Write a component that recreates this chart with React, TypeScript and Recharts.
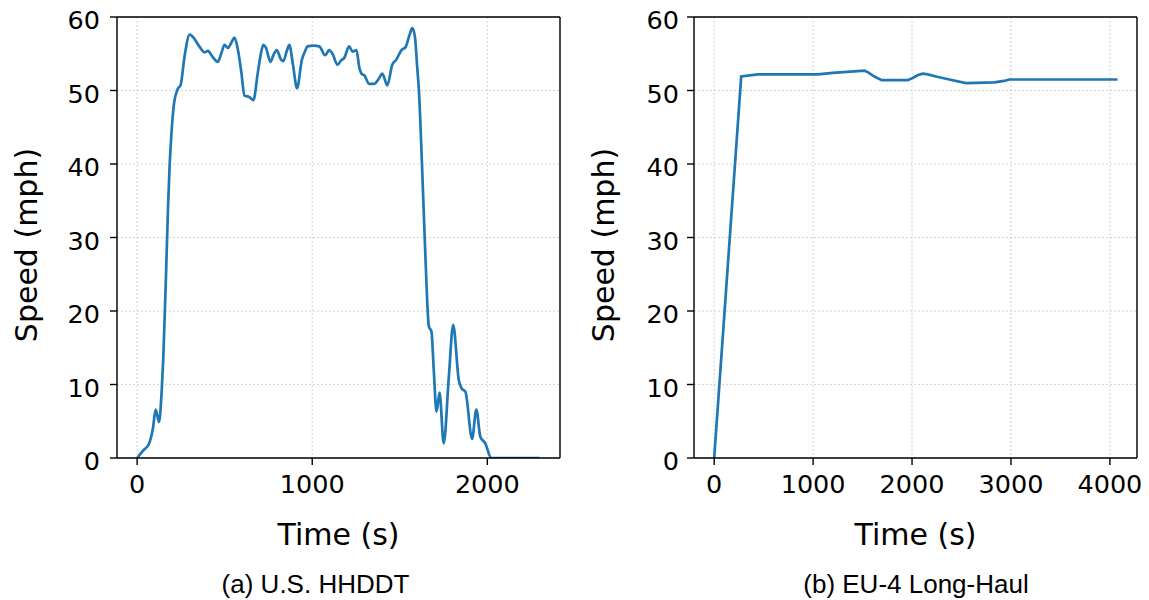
import React from 'react';
import { LineChart, Line, XAxis, YAxis, CartesianGrid, ReferenceLine } from 'recharts';

// ---- Data ----
const hhddtTime = [
  0, 34, 68, 90, 106, 125, 140, 150, 165, 176, 185, 195, 209, 230, 249, 270, 300, 328, 355, 385, 404,
  430, 461, 480, 499, 518, 540, 556, 575, 595, 613, 641, 664, 689, 710, 721, 736, 761, 780, 797, 822,
  835, 855, 869, 890, 913, 941, 960, 973, 1006, 1040, 1074, 1097, 1116, 1144, 1165, 1182, 1211, 1230, 1252, 1270,
  1281, 1300, 1324, 1353, 1380, 1400, 1429, 1457, 1480, 1510, 1533, 1555, 1571, 1586, 1600, 1609, 1628, 1647, 1666, 1681,
  1694, 1710, 1727, 1751, 1780, 1805, 1837, 1852, 1875, 1913, 1937, 1960, 1988, 2023, 2298,
];
const hhddtSpeed = [
  0, 1.0, 1.95, 4.0, 6.6, 4.9, 9, 14, 25, 33.8, 39.5, 43.8, 47.9, 50.1, 50.8, 54.5, 57.6, 57.0, 56.0, 55.2, 55.4,
  54.6, 53.9, 55.0, 56.2, 55.8, 56.6, 57.2, 55.6, 52.5, 49.3, 49.1, 48.7, 52.4, 55.4, 56.2, 55.8, 53.9, 54.9, 55.5, 54.2,
  54.0, 55.4, 56.2, 53.5, 50.3, 54.2, 55.4, 56.0, 56.1, 56.0, 54.8, 55.5, 55.0, 53.5, 54.1, 54.4, 56.0, 55.3, 55.5, 53.0,
  52.3, 52.0, 50.9, 50.9, 51.6, 52.3, 50.7, 53.5, 54.2, 55.5, 55.9, 57.5, 58.5, 57.4, 53, 50.1, 39.2, 27, 17.9, 17.2,
  12, 6.3, 8.9, 2.0, 11, 18.1, 10.6, 9.5, 9.0, 2.6, 6.6, 2.9, 2.0, 0, 0,
];
const euTime = [0, 273, 441, 1047, 1200, 1519, 1552, 1620, 1694, 1956, 2007, 2060, 2108, 2160, 2242, 2377, 2545, 2832, 2930, 2983, 4077];
const euSpeed = [0, 51.9, 52.2, 52.2, 52.4, 52.7, 52.5, 51.9, 51.4, 51.4, 51.7, 52.1, 52.3, 52.2, 51.9, 51.5, 51.0, 51.1, 51.3, 51.5, 51.5];

const speedTicks = [0, 10, 20, 30, 40, 50, 60];
const hhddtTimeTicks = [0, 1000, 2000];
const euTimeTicks = [0, 1000, 2000, 3000, 4000];
const captions = ['(a) U.S. HHDDT', '(b) EU-4 Long-Haul'];
const xTitle = 'Time (s)';
const yTitle = 'Speed (mph)';

const hhddtData = hhddtTime.map((t, i) => ({ t, v: hhddtSpeed[i] }));
const euData = euTime.map((t, i) => ({ t, v: euSpeed[i] }));

const FONT = '"DejaVu Sans", sans-serif';
const CAPFONT = '"Liberation Sans", Arial, sans-serif';
const CHART_H = 600;
const PLOT_TOP = 17;
const PLOT_BOTTOM = 458;
const AXIS_COLOR = '#000';
const Y_DOMAIN: [number, number] = [0, 60];

type PanelProps = {
  left: number;
  width: number;
  yAxisWidth: number;
  marginRight: number;
  data: { t: number; v: number }[];
  xDomain: [number, number];
  xTicks: number[];
  caption: string;
  captionX: number;
  yTickGap: number;
  curve: 'monotone' | 'linear';
};

function Panel(p: PanelProps) {
  const plotLeft = p.yAxisWidth;
  const plotRight = p.width - p.marginRight;
  const plotCenterX = (plotLeft + plotRight) / 2;

  const xTick = (props: any) => (
    <text
      x={props.x}
      y={PLOT_BOTTOM + 35}
      textAnchor="middle"
      fontFamily={FONT}
      fontSize={25.5}
      fill="#000"
    >
      {props.payload.value}
    </text>
  );
  const yTick = (props: any) => (
    <text
      x={plotLeft - p.yTickGap}
      y={props.y + 12}
      textAnchor="end"
      fontFamily={FONT}
      fontSize={25.5}
      fill="#000"
    >
      {props.payload.value}
    </text>
  );
  const xLabel = () => (
    <g>
      <text x={plotCenterX} y={545} textAnchor="middle" fontFamily={FONT} fontSize={30} fill="#000">
        {xTitle}
      </text>
      <text x={p.captionX} y={593} textAnchor="middle" fontFamily={CAPFONT} fontSize={26} fill="#000">
        {p.caption}
      </text>
    </g>
  );
  const yLabelX = plotLeft - 80;
  const yLabelY = 245;
  const yLabel = () => (
    <text
      x={yLabelX}
      y={yLabelY}
      transform={`rotate(-90, ${yLabelX}, ${yLabelY})`}
      textAnchor="middle"
      fontFamily={FONT}
      fontSize={30}
      fill="#000"
    >
      {yTitle}
    </text>
  );

  return (
    <div style={{ position: 'absolute', left: p.left, top: 0, width: p.width, height: CHART_H }}>
      <LineChart
        width={p.width}
        height={CHART_H}
        data={p.data}
        margin={{ top: PLOT_TOP, right: p.marginRight, bottom: 0, left: 0 }}
      >
        <CartesianGrid stroke="#c8c8c8" strokeDasharray="2 2" strokeWidth={0.8} />
        <XAxis
          dataKey="t"
          type="number"
          domain={p.xDomain}
          allowDataOverflow
          ticks={p.xTicks}
          height={CHART_H - PLOT_BOTTOM}
          tickSize={7}
          tickMargin={10}
          tick={xTick}
          axisLine={{ stroke: AXIS_COLOR, strokeWidth: 1.4 }}
          tickLine={{ stroke: AXIS_COLOR, strokeWidth: 1.4 }}
          label={xLabel}
        />
        <YAxis
          type="number"
          domain={Y_DOMAIN}
          allowDataOverflow
          ticks={speedTicks}
          width={p.yAxisWidth}
          tickSize={7}
          tick={yTick}
          axisLine={{ stroke: AXIS_COLOR, strokeWidth: 1.4 }}
          tickLine={{ stroke: AXIS_COLOR, strokeWidth: 1.4 }}
          label={yLabel}
        />
        <ReferenceLine y={Y_DOMAIN[1]} stroke={AXIS_COLOR} strokeWidth={1.4} ifOverflow="visible" />
        <ReferenceLine x={p.xDomain[1]} stroke={AXIS_COLOR} strokeWidth={1.4} ifOverflow="visible" />
        <Line
          type={p.curve}
          dataKey="v"
          stroke="#1f77b4"
          strokeWidth={2.7}
          dot={false}
          activeDot={false}
          isAnimationActive={false}
        />
      </LineChart>
    </div>
  );
}

export default function App() {
  return (
    <div
      style={{
        position: 'absolute',
        left: 0,
        top: 0,
        width: 1149,
        height: 600,
        background: '#fff',
        overflow: 'hidden',
      }}
    >
      <Panel
        left={0}
        width={580}
        yAxisWidth={117}
        marginRight={20}
        data={hhddtData}
        xDomain={[-115, 2415]}
        xTicks={hhddtTimeTicks}
        caption={captions[0]}
        captionX={315.5}
        yTickGap={17}
        curve="monotone"
      />
      <Panel
        left={580}
        width={569}
        yAxisWidth={114}
        marginRight={12}
        data={euData}
        xDomain={[-204, 4274]}
        xTicks={euTimeTicks}
        caption={captions[1]}
        captionX={336}
        yTickGap={15}
        curve="linear"
      />
    </div>
  );
}
